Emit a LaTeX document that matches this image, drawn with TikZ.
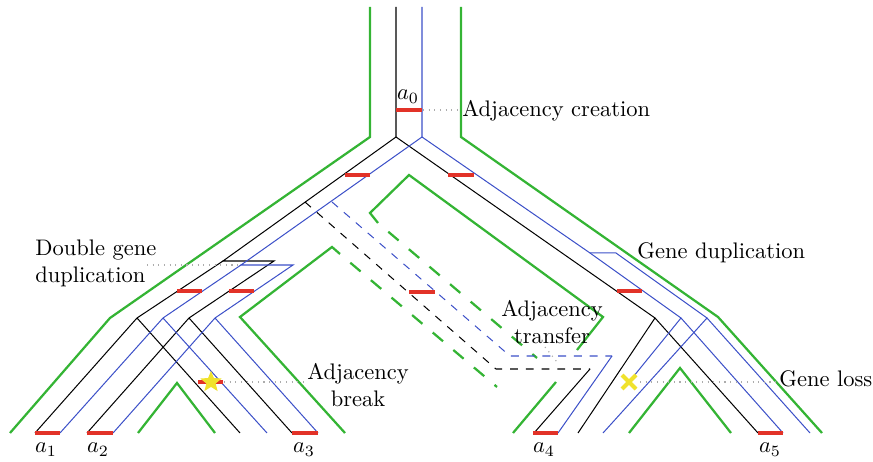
\documentclass[tikz,border=0pt]{standalone}
\usetikzlibrary{shapes.geometric}
\definecolor{sgreen}{RGB}{52,180,52}
\definecolor{gblue}{RGB}{60,80,200}
\definecolor{adjred}{RGB}{226,50,40}
\definecolor{evyellow}{RGB}{240,226,45}
\begin{document}
\begin{tikzpicture}[x=0.4444pt,y=-0.4444pt,
  species/.style={draw=sgreen,line width=1pt,line join=miter},
  speciesdash/.style={species,dash pattern=on 6pt off 6pt,dash phase=6pt},
  geneA/.style={draw=black,line width=0.45pt},
  geneB/.style={draw=gblue,line width=0.45pt},
  transA/.style={geneA,dash pattern=on 3.5pt off 3.5pt},
  transB/.style={geneB,dash pattern=on 3.5pt off 3.5pt},
  adj/.style={draw=adjred,line width=1.9pt},
  note/.style={draw=gray!65,dotted,line width=0.5pt},
  lbl/.style={inner sep=0pt,anchor=base west},
  ctr/.style={inner sep=0pt,anchor=base}]

\useasboundingbox (0,0) rectangle (873,462);

% species tree (tubes)
\draw[species] (370,7) -- (370,137) -- (110,318) -- (10,433);
\draw[species] (461,7) -- (461,137) -- (718,317) -- (822,433);
\draw[species] (378,223) -- (370,213) -- (409,175) -- (603,317) -- (577,350);
\draw[species] (556,382) -- (513,433);
\draw[species] (340,254) -- (332,247) -- (240,317) -- (345,433);
\draw[species] (138,433) -- (177,383) -- (215,433);
\draw[species] (629,433) -- (680,368) -- (731,433);
\draw[speciesdash] (378,223) -- (537,358);
\draw[speciesdash] (340,254) -- (497,387);

% black gene tree
\coordinate (bRoot) at (396,137);
\coordinate (bDupL) at (223,261);
\coordinate (bDupR) at (274,261);
\coordinate (bS1) at (137,318);
\coordinate (bS2) at (189,318);
\coordinate (bS3) at (655,318);
\draw[geneA] (396,7) -- (bRoot) -- (bDupL) -- (bDupR) -- (bS2) -- (87,433);
\draw[geneA] (bDupL) -- (bS1) -- (35,433);
\draw[geneA] (bS1) -- (240,433);
\draw[geneA] (bS2) -- (292,433);
\draw[geneA] (bRoot) -- (bS3) -- (578,433);
\draw[geneA] (bS3) -- (758,433);
\draw[transA] (305,202) -- (496,369) -- (590,369);
\draw[geneA] (590,369) -- (534,433);

% blue gene tree
\coordinate (uRoot) at (422,137);
\coordinate (uDupL) at (241,265);
\coordinate (uDupR) at (293,265);
\coordinate (uS1) at (163,318);
\coordinate (uS2) at (215,318);
\coordinate (uDupA) at (590,253);
\coordinate (uDupB) at (616,253);
\coordinate (uS3) at (681,318);
\coordinate (uS4) at (707,318);
\draw[geneB] (422,7) -- (uRoot) -- (uDupL) -- (uDupR) -- (uS2) -- (113,433);
\draw[geneB] (uDupL) -- (uS1) -- (60,433);
\draw[geneB] (uS1) -- (267,433);
\draw[geneB] (uS2) -- (318,433);
\draw[geneB] (uRoot) -- (uDupA) -- (uDupB) -- (uS4) -- (603,433);
\draw[geneB] (uDupA) -- (uS3) -- (629,382);
\draw[geneB] (uS3) -- (783,433);
\draw[geneB] (uS4) -- (810,433);
\draw[transB] (332,202) -- (510,356) -- (612,356);
\draw[geneB] (612,356) -- (558,433);

% dotted annotation leaders
\draw[note] (423,110) -- (460,110);
\draw[note] (147,265) -- (241,265);
\draw[note] (224,382) -- (305,382);
\draw[note] (640,382) -- (777,382);
\draw[note] (545,347) -- (557,362);

% adjacencies
\draw[adj] (396,110) -- (422,110);
\draw[adj] (345,175) -- (370,175);
\draw[adj] (448,175) -- (474,175);
\draw[adj] (177,291) -- (202,291);
\draw[adj] (229,291) -- (254,291);
\draw[adj] (409,292) -- (435,292);
\draw[adj] (617,291) -- (642,291);
\draw[adj] (198,382) -- (223,382);
\draw[adj] (35,433) -- (60,433);
\draw[adj] (87,433) -- (113,433);
\draw[adj] (292,433) -- (318,433);
\draw[adj] (533,433) -- (558,433);
\draw[adj] (758,433) -- (783,433);

% events
\node[star,star points=5,star point ratio=2.3,fill=evyellow,minimum size=10pt,inner sep=0pt] (brk) at (211,382) {};
\draw[evyellow,line width=1.8pt] (622,375) -- (636,389) (622,389) -- (636,375);

% labels
\node[ctr] (a0) at (408,100) {$a_0$};
\node[ctr] (a1) at (46,453) {$a_1$};
\node[ctr] (a2) at (98,453) {$a_2$};
\node[ctr] (a3) at (304,453) {$a_3$};
\node[ctr] (a4) at (544,453) {$a_4$};
\node[ctr] (a5) at (770,453) {$a_5$};
\node[lbl] (creation) at (462,117) {Adjacency creation};
\node[lbl] (dgd1) at (35,256) {Double gene};
\node[lbl] (dgd2) at (35,283) {duplication};
\node[lbl] (gdup) at (637,259) {Gene duplication};
\node[ctr] (tr1) at (552,317) {Adjacency};
\node[ctr] (tr2) at (552,344) {transfer};
\node[ctr] (br1) at (358,380) {Adjacency};
\node[ctr] (br2) at (358,407) {break};
\node[lbl] (loss) at (779,387) {Gene loss};
\end{tikzpicture}
\end{document}
